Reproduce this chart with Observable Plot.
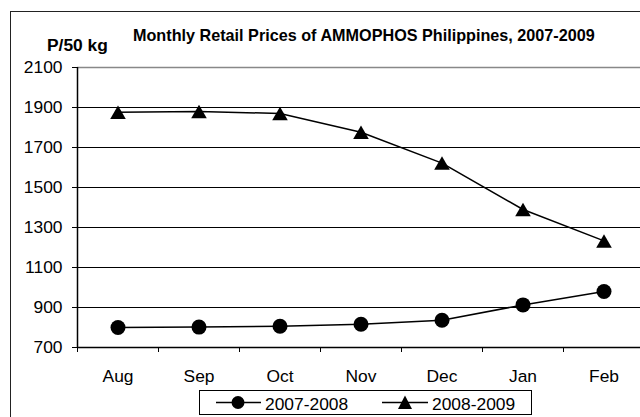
<!DOCTYPE html>
<html><head><meta charset="utf-8">
<script src="https://cdn.jsdelivr.net/npm/d3@7"></script>
<script src="https://cdn.jsdelivr.net/npm/@observablehq/plot@0.6"></script>
<style>
html,body{margin:0;padding:0;background:#fff;overflow:hidden;}
#wrap{position:relative;width:640px;height:417px;overflow:hidden;font-family:"Liberation Sans",Arial,sans-serif;color:#000;}
#border{position:absolute;left:10px;top:11px;width:720px;height:520px;border:1.5px solid #222;box-sizing:border-box;}
#chart{position:absolute;left:0;top:0;}
#title{position:absolute;left:133px;top:27px;font-size:16.2px;font-weight:bold;line-height:16px;white-space:nowrap;}
#ylabel{position:absolute;left:47px;top:37px;font-size:17.4px;font-weight:bold;line-height:17px;white-space:nowrap;}
#legend{position:absolute;left:199px;top:390px;}
</style>
</head><body>
<div id="wrap">
  <div id="border"></div>
  <div id="chart"></div>
  <div id="title">Monthly Retail Prices of AMMOPHOS Philippines, 2007-2009</div>
  <div id="ylabel">P/50 kg</div>
  <svg id="legend" width="333" height="25" font-family="Liberation Sans, Arial, sans-serif" font-size="17.4">
    <rect x="0.5" y="0.5" width="332" height="24" fill="#fff" stroke="#000" stroke-width="1"/>
    <line x1="17" y1="12.5" x2="62" y2="12.5" stroke="#000" stroke-width="1.5"/>
    <circle cx="39" cy="12.5" r="6.5" fill="#000"/>
    <text x="66" y="19.5">2007-2008</text>
    <line x1="183" y1="12.5" x2="229" y2="12.5" stroke="#000" stroke-width="1.5"/>
    <path d="M206,5.5 L213,19 L199,19 Z" fill="#000"/>
    <text x="233" y="19.5">2008-2009</text>
  </svg>
</div>
<script>
const months = ["Aug", "Sep", "Oct", "Nov", "Dec", "Jan", "Feb"];
const prices0708 = [800, 802, 806, 816, 836, 913, 980];
const prices0809 = [1876, 1880, 1870, 1776, 1622, 1390, 1233];
const yTicks = [700, 900, 1100, 1300, 1500, 1700, 1900, 2100];
const gridLines = [900, 1100, 1300, 1500, 1700, 1900];

const pos = (d, i) => i + 0.5;

const chart = Plot.plot({
  width: 640,
  height: 417,
  marginLeft: 77,
  marginTop: 67,
  marginBottom: 70,
  marginRight: 0,
  style: {fontFamily: "Liberation Sans, Arial, sans-serif", fontSize: "17.4px", background: "transparent", color: "#000"},
  x: {type: "linear", domain: [0, 7], range: [77, 644]},
  y: {domain: [700, 2100], range: [347, 67]},
  marks: [
    Plot.ruleY(gridLines, {stroke: "#000", strokeWidth: 1}),
    Plot.ruleY([2100], {stroke: "#888", strokeWidth: 1.5}),
    Plot.axisY(yTicks, {tickSize: 5, tickPadding: 10, tickFormat: d => String(d), stroke: "#000", strokeOpacity: 1, fontSize: 17.4}),
    Plot.axisX(months.map(pos), {tickSize: 0, tickPadding: 22, tickFormat: d => months[Math.floor(d)], fontSize: 17.4}),
    Plot.axisX(d3.range(0, 7), {tickSize: 5, tickFormat: () => "", stroke: "#000", strokeOpacity: 1}),
    Plot.ruleX([0], {stroke: "#000", strokeWidth: 1.5}),
    Plot.ruleY([700], {stroke: "#000", strokeWidth: 1.5}),
    Plot.line(prices0708, {x: pos, y: d => d, stroke: "#000", strokeWidth: 1.5}),
    Plot.line(prices0809, {x: pos, y: d => d, stroke: "#000", strokeWidth: 1.5}),
    Plot.dot(prices0708, {x: pos, y: d => d, r: 7.5, fill: "#000", symbol: "circle"}),
    Plot.dot(prices0809, {x: pos, y: d => d, r: 5.8, dy: 2.25, fill: "#000", symbol: "triangle"})
  ]
});
document.getElementById("chart").appendChild(chart);
</script>
</body></html>
